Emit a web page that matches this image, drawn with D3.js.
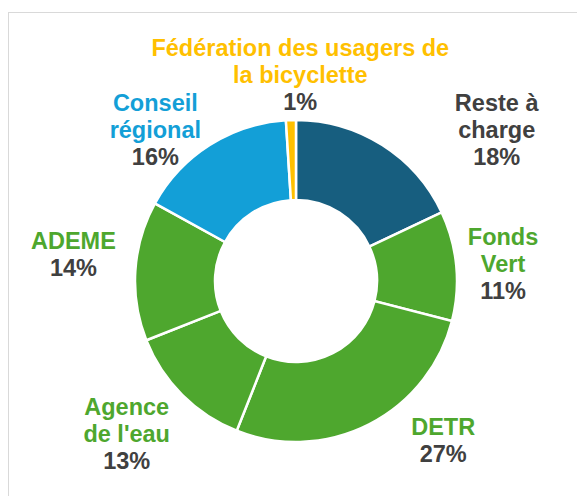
<!DOCTYPE html>
<html>
<head>
<meta charset="utf-8">
<script src="https://cdn.jsdelivr.net/npm/d3@7/dist/d3.min.js"></script>
<style>
  body { margin: 0; background: #fff; }
  svg { display: block; }
  .lbl { font-family: "Liberation Sans", Arial, sans-serif; font-weight: bold; font-size: 23.5px; text-anchor: middle; }
</style>
</head>
<body>
<div class="chart"></div>
<script>
// données du graphique (sens horaire depuis midi)
var categories = ['Reste à charge', 'Fonds Vert', 'DETR', "Agence de l'eau", 'ADEME', 'Conseil régional', 'Fédération des usagers de la bicyclette'];
var labelLines = [['Reste à', 'charge'], ['Fonds', 'Vert'], ['DETR'], ['Agence', "de l'eau"], ['ADEME'], ['Conseil', 'régional'], ['Fédération des usagers de', 'la bicyclette']];
var values = [18, 11, 27, 13, 14, 16, 1];

var colors = ['#175e7f', '#4ea72e', '#4ea72e', '#4ea72e', '#4ea72e', '#139fd7', '#ffc000'];
var labelColors = ['#404040', '#4ea72e', '#4ea72e', '#4ea72e', '#4ea72e', '#139fd7', '#ffc000'];
// décalage des étiquettes par rapport au centroïde (placement "ajustement optimal")
var labelShift = [[86, 30], [-6, 3], [50, -31], [-18, 2], [-9, -13], [-26, 30], [11, 8]];

var width = 577, height = 496;
var cx = 296, cy = 281, outerR = 161, innerR = 81, labelR = 214, lineH = 27;

var svg = d3.select('.chart')
  .append('svg')
  .attr('width', width)
  .attr('height', height);

// cadre
svg.append('rect')
  .attr('x', 8.5)
  .attr('y', 12.5)
  .attr('width', 700)
  .attr('height', 700)
  .attr('fill', 'none')
  .attr('stroke', '#d9d9d9')
  .attr('stroke-width', 1);

var data = categories.map((c, i) => ({ name: c, lines: labelLines[i], value: values[i], i: i }));

var pie = d3.pie().sort(null).value(d => d.value);
var arc = d3.arc().innerRadius(innerR).outerRadius(outerR);
var labelArc = d3.arc().innerRadius(labelR).outerRadius(labelR);

var g = svg.append('g').attr('transform', 'translate(' + cx + ',' + cy + ')');

var arcs = pie(data);

g.selectAll('path.slice')
  .data(arcs)
  .enter().append('path')
  .attr('class', 'slice')
  .attr('d', arc)
  .attr('fill', d => colors[d.data.i])
  .attr('stroke', '#fff')
  .attr('stroke-width', 2.5)
  .attr('stroke-linejoin', 'miter');

var labels = g.selectAll('text.lbl')
  .data(arcs)
  .enter().append('text')
  .attr('class', 'lbl')
  .attr('transform', d => {
    var c = labelArc.centroid(d);
    var s = labelShift[d.data.i];
    return 'translate(' + (c[0] + s[0]) + ',' + (c[1] + s[1]) + ')';
  });

labels.each(function (d) {
  var t = d3.select(this);
  var lines = d.data.lines.concat([d.data.value + '%']);
  var y0 = -(lines.length - 1) * lineH / 2 + 8;
  lines.forEach((l, k) => {
    t.append('tspan')
      .attr('x', 0)
      .attr('y', y0 + k * lineH)
      .attr('fill', k === lines.length - 1 ? '#404040' : labelColors[d.data.i])
      .text(l);
  });
});
</script>
</body>
</html>
